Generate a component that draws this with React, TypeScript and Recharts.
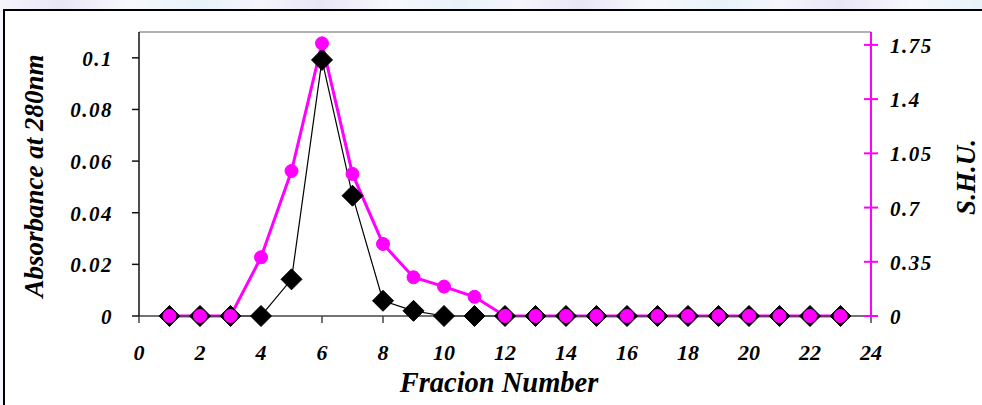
import React from "react";
import { LineChart, Line, XAxis, YAxis, ReferenceLine, Label } from "recharts";

const fractions = [1, 2, 3, 4, 5, 6, 7, 8, 9, 10, 11, 12, 13, 14, 15, 16, 17, 18, 19, 20, 21, 22, 23];
const absorbance = [0, 0, 0, 0, 0.0142, 0.0992, 0.0466, 0.0059, 0.002, 0, 0, 0, 0, 0, 0, 0, 0, 0, 0, 0, 0, 0, 0];
const shu = [0, 0, 0, 0.379, 0.936, 1.76, 0.917, 0.465, 0.25, 0.19, 0.124, 0, 0, 0, 0, 0, 0, 0, 0, 0, 0, 0, 0];

const xTicks = [0, 2, 4, 6, 8, 10, 12, 14, 16, 18, 20, 22, 24];
const leftTicks = [0, 0.02, 0.04, 0.06, 0.08, 0.1];
const rightTicks = [0, 0.35, 0.7, 1.05, 1.4, 1.75];

const data = fractions.map((f, i) => ({ fraction: f, absorbance: absorbance[i], shu: shu[i] }));

const MAGENTA = "#ff00ff";
const font = {
  fontFamily: "'Liberation Serif', 'Times New Roman', serif",
  fontWeight: 700,
  fontStyle: "italic" as const,
};

const XTick = ({ x, y, payload }: any) => (
  <text x={x} y={y} dy={17} textAnchor="middle" fontSize={22} fill="#000" style={font}>
    {payload.value}
  </text>
);

const LeftTick = ({ x, y, payload }: any) => (
  <text x={x} y={y} dy={8} textAnchor="end" fontSize={21} letterSpacing={1.5} fill="#000" style={font}>
    {payload.value}
  </text>
);

const RightTick = ({ x, y, payload }: any) => (
  <g>
    <line x1={x - 12 - 14} x2={x - 12 - 7} y1={y} y2={y} stroke={MAGENTA} strokeWidth={2} />
    <text x={x} y={y} dy={8} textAnchor="start" fontSize={21} letterSpacing={1.5} fill="#000" style={font}>
      {payload.value}
    </text>
  </g>
);

const Diamond = (props: any) => {
  const { cx, cy, index } = props;
  const s = 10.5;
  return (
    <polygon
      key={`d-${index}`}
      points={`${cx},${cy - s} ${cx + s},${cy} ${cx},${cy + s} ${cx - s},${cy}`}
      fill="#000"
      stroke="#000"
    />
  );
};

export default function App() {
  return (
    <div
      style={{
        position: "absolute",
        left: 0,
        top: 0,
        width: 982,
        height: 405,
        overflow: "hidden",
        background: "repeating-linear-gradient(90deg, #f6f5fc 0px, #e9e6f7 60px, #f7f8fc 130px, #e7f3f9 200px, #f6f5fc 260px)",
      }}
    >
      <div
        style={{
          position: "absolute",
          left: 3,
          top: 9,
          width: 1000,
          height: 420,
          border: "2px solid #000",
          background: "#fff",
        }}
      />
      <div style={{ position: "absolute", left: 0, top: 0 }}>
        <LineChart width={982} height={405} data={data} margin={{ top: 32, right: 0, bottom: 0, left: 0 }}>
          <XAxis
            dataKey="fraction"
            type="number"
            domain={[0, 24]}
            ticks={xTicks}
            height={89}
            tickSize={7}
            tickMargin={20}
            stroke="#444"
            strokeWidth={1.5}
            tick={<XTick />}
            interval={0}
          >
            <Label
              content={() => (
                <text x={499} y={392} textAnchor="middle" fontSize={28.5} fill="#000" style={font}>
                  Fracion Number
                </text>
              )}
            />
          </XAxis>
          <YAxis
            yAxisId="left"
            domain={[0, 0.11]}
            ticks={leftTicks}
            width={139}
            tickSize={7}
            tickMargin={19}
            stroke="#111"
            strokeWidth={1.5}
            tick={<LeftTick />}
            interval={0}
          >
            <Label
              content={() => (
                <text x={43} y={176} transform="rotate(-90, 43, 176)" textAnchor="middle" fontSize={27} fill="#000" style={font}>
                  Absorbance at 280nm
                </text>
              )}
            />
          </YAxis>
          <YAxis
            yAxisId="right"
            orientation="right"
            domain={[0, 1.8333]}
            ticks={rightTicks}
            width={111}
            tickSize={7}
            tickMargin={12}
            stroke={MAGENTA}
            strokeWidth={2}
            tick={<RightTick />}
            interval={0}
          >
            <Label
              content={() => (
                <text x={975} y={177} transform="rotate(-90, 975, 177)" textAnchor="middle" fontSize={27} fill="#000" style={font}>
                  S.H.U.
                </text>
              )}
            />
          </YAxis>
          <ReferenceLine yAxisId="left" y={0.11} stroke="#999" strokeWidth={1.5} />
          <Line
            yAxisId="left"
            type="linear"
            dataKey="absorbance"
            stroke="#000"
            strokeWidth={1.2}
            dot={Diamond}
            activeDot={false}
            isAnimationActive={false}
          />
          <Line
            yAxisId="right"
            type="linear"
            dataKey="shu"
            stroke={MAGENTA}
            strokeWidth={3}
            dot={{ r: 6.5, fill: MAGENTA, stroke: MAGENTA, strokeWidth: 1 }}
            activeDot={false}
            isAnimationActive={false}
          />
        </LineChart>
      </div>
    </div>
  );
}
